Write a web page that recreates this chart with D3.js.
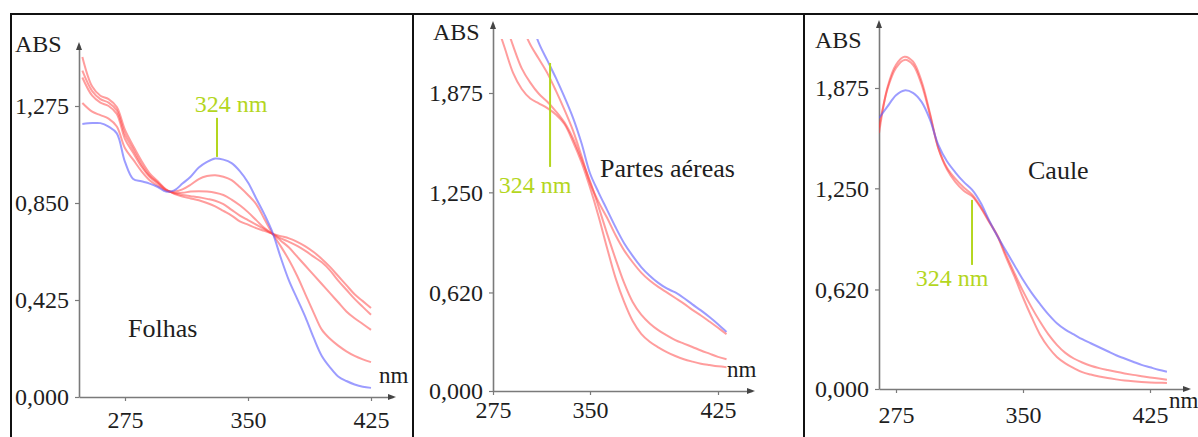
<!DOCTYPE html>
<html lang="pt">
<head>
<meta charset="UTF-8">
<title>Espectros UV</title>
<script src="https://cdn.jsdelivr.net/npm/d3@7"></script>
<style>
  body { margin: 0; background: #fff; }
  svg { display: block; }
</style>
</head>
<body>
<script>
// ---- data ----
// Folhas
var folhasNm = [249, 255, 260, 265, 270, 275, 280, 285, 290, 295, 300, 305, 310, 315, 320, 325, 330, 335,
                340, 345, 350, 355, 360, 365, 370, 375, 380, 385, 390, 395, 400, 405, 410, 415, 420, 425];
var folhasBlue = [1.196, 1.20, 1.20, 1.185, 1.155, 1.03, 0.955, 0.945, 0.935, 0.92, 0.90, 0.905, 0.935, 0.965, 1.005, 1.03, 1.045, 1.04,
                  1.025, 0.99, 0.94, 0.87, 0.80, 0.72, 0.61, 0.51, 0.43, 0.35, 0.26, 0.18, 0.13, 0.09, 0.07, 0.055, 0.045, 0.04];
var folhasRed1 = [1.288, 1.25, 1.235, 1.22, 1.185, 1.09, 1.04, 0.99, 0.95, 0.925, 0.905, 0.90, 0.91, 0.93, 0.955, 0.968, 0.972, 0.965,
                  0.95, 0.92, 0.885, 0.845, 0.78, 0.715, 0.66, 0.60, 0.53, 0.45, 0.37, 0.295, 0.255, 0.225, 0.20, 0.18, 0.165, 0.153];
var folhasRed2 = [1.40, 1.32, 1.29, 1.275, 1.24, 1.13, 1.07, 1.01, 0.965, 0.935, 0.905, 0.895, 0.895, 0.90, 0.902, 0.90, 0.895, 0.885,
                  0.865, 0.84, 0.81, 0.775, 0.74, 0.715, 0.685, 0.655, 0.615, 0.575, 0.535, 0.495, 0.455, 0.415, 0.375, 0.345, 0.32, 0.294];
var folhasRed3 = [1.43, 1.34, 1.305, 1.29, 1.255, 1.15, 1.085, 1.02, 0.97, 0.94, 0.908, 0.893, 0.885, 0.88, 0.875, 0.868, 0.86, 0.845,
                  0.82, 0.795, 0.775, 0.755, 0.735, 0.715, 0.695, 0.68, 0.662, 0.64, 0.615, 0.59, 0.555, 0.51, 0.47, 0.43, 0.395, 0.36];
var folhasRed4 = [1.49, 1.36, 1.32, 1.305, 1.27, 1.17, 1.10, 1.035, 0.98, 0.945, 0.91, 0.89, 0.878, 0.87, 0.862, 0.85, 0.835, 0.815,
                  0.795, 0.77, 0.755, 0.74, 0.728, 0.715, 0.705, 0.695, 0.68, 0.66, 0.635, 0.605, 0.57, 0.53, 0.49, 0.45, 0.42, 0.39];

// Partes aéreas (null = curve not yet started)
var partesNm = [295, 300, 305, 310, 315, 320, 325, 330, 335, 340, 345, 350, 355, 360, 365, 370, 375, 380,
                385, 390, 395, 400, 405, 410, 415, 420, 425, 430];
var partesBlue = [null, null, null, null, 2.35, 2.19, 2.08, 1.97, 1.85, 1.72, 1.56, 1.37, 1.25, 1.14, 1.03, 0.93, 0.85, 0.78,
                  0.725, 0.68, 0.645, 0.62, 0.585, 0.545, 0.507, 0.465, 0.42, 0.372];
var partesRed1 = [2.32, 2.16, 2.0, 1.9, 1.84, 1.81, 1.78, 1.74, 1.68, 1.57, 1.44, 1.28, 1.10, 0.90, 0.71, 0.56, 0.44, 0.36,
                  0.31, 0.275, 0.245, 0.22, 0.20, 0.185, 0.172, 0.163, 0.155, 0.15];
var partesRed2 = [2.5, 2.33, 2.17, 2.03, 1.94, 1.87, 1.82, 1.76, 1.69, 1.59, 1.46, 1.32, 1.16, 0.99, 0.83, 0.68, 0.56, 0.48,
                  0.425, 0.383, 0.35, 0.32, 0.298, 0.277, 0.255, 0.235, 0.215, 0.20];
var partesRed3 = [null, null, null, 2.3, 2.18, 2.09, 2.0, 1.89, 1.77, 1.64, 1.48, 1.31, 1.19, 1.09, 0.98, 0.885, 0.81, 0.745,
                  0.695, 0.655, 0.62, 0.585, 0.55, 0.51, 0.475, 0.437, 0.398, 0.358];

// Caule
var cauleNm = [265, 270, 275, 280, 285, 290, 295, 300, 305, 310, 315, 320, 325, 330, 335, 340, 345, 350,
               355, 360, 365, 370, 375, 380, 385, 390, 395, 400, 405, 410, 415, 420, 425, 430, 435];
var cauleBlue = [1.688, 1.76, 1.83, 1.86, 1.845, 1.79, 1.68, 1.52, 1.42, 1.35, 1.29, 1.24, 1.16, 1.05, 0.95, 0.86, 0.77, 0.68,
                 0.60, 0.53, 0.465, 0.41, 0.37, 0.34, 0.31, 0.285, 0.26, 0.235, 0.21, 0.19, 0.17, 0.15, 0.135, 0.12, 0.108];
var cauleRed1 = [1.595, 1.88, 2.02, 2.07, 2.04, 1.92, 1.72, 1.50, 1.37, 1.29, 1.235, 1.20, 1.13, 1.04, 0.95, 0.82, 0.70, 0.57,
                 0.45, 0.34, 0.26, 0.20, 0.16, 0.13, 0.105, 0.09, 0.078, 0.068, 0.06, 0.053, 0.048, 0.044, 0.041, 0.039, 0.037];
var cauleRed2 = [1.63, 1.87, 2.0, 2.05, 2.02, 1.90, 1.71, 1.50, 1.38, 1.31, 1.255, 1.21, 1.135, 1.045, 0.955, 0.835, 0.72, 0.61,
                 0.51, 0.42, 0.34, 0.275, 0.225, 0.19, 0.165, 0.145, 0.13, 0.118, 0.107, 0.097, 0.088, 0.08, 0.072, 0.065, 0.058];

// ticks
var xTickValues = [275, 350, 425];
var xTickLabels = ["275", "350", "425"];
var folhasYTicks = [0, 0.425, 0.85, 1.275];
var folhasYLabels = ["0,000", "0,425", "0,850", "1,275"];
var abs2YTicks = [0, 0.62, 1.25, 1.875];
var abs2YLabels = ["0,000", "0,620", "1,250", "1,875"];

// ---- layout ----
var W = 1198, H = 437;
var serif = "'Liberation Serif', 'Times New Roman', serif";
var svg = d3.select("body").append("svg").attr("width", W).attr("height", H);

var panels = [
  { name: "Folhas", nm: folhasNm, reds: [folhasRed1, folhasRed2, folhasRed3, folhasRed4], blue: folhasBlue,
    yTicks: folhasYTicks, yLabels: folhasYLabels, firstTickAtOrigin: false,
    xRef: [275, 425], xRefPx: [125, 371], xAxisPx: [79, 393],
    yRef: [0, 1.275], yRefPx: [397, 106], yTopPx: 45, clipTopPx: 45,
    absPos: [15, 52], nmPos: [379, 383], namePos: [128, 337], xLabelDy: 31,
    marker: { nm: 331.1, lo: 1.052, hi: 1.223, labelDx: 14, labelY: 112 } },
  { name: "Partes aéreas", nm: partesNm, reds: [partesRed1, partesRed2, partesRed3], blue: partesBlue,
    yTicks: abs2YTicks, yLabels: abs2YLabels, firstTickAtOrigin: true,
    xRef: [350, 425], xRefPx: [590, 718], xAxisPx: [493, 752],
    yRef: [0, 1.875], yRefPx: [391, 93], yTopPx: 24, clipTopPx: 39,
    absPos: [433, 40], nmPos: [727, 377], namePos: [600, 177], xLabelDy: 27,
    marker: { nm: 326.6, lo: 1.41, hi: 2.064, labelDx: -15, labelY: 193 } },
  { name: "Caule", nm: cauleNm, reds: [cauleRed1, cauleRed2], blue: cauleBlue,
    yTicks: abs2YTicks, yLabels: abs2YLabels, firstTickAtOrigin: false,
    xRef: [275, 425], xRefPx: [896, 1150], xAxisPx: [879, 1188],
    yRef: [0, 1.875], yRefPx: [389, 88], yTopPx: 23, clipTopPx: 23,
    absPos: [815, 48], nmPos: [1169, 408], namePos: [1028, 179], xLabelDy: 34,
    marker: { nm: 319.9, lo: 0.773, hi: 1.178, labelDx: -20, labelY: 286 } }
];

// panel frame lines
var frame = svg.append("g").attr("stroke", "#111").attr("stroke-width", 2);
frame.append("line").attr("x1", 10).attr("x2", W).attr("y1", 14).attr("y2", 14);
[11, 413, 804].forEach(function(x) {
  frame.append("line").attr("x1", x).attr("x2", x).attr("y1", 14).attr("y2", H);
});

var fontSize = 24;
var textColor = "#1e1e1e";

function label(g, pos, txt, size) {
  return g.append("text")
    .attr("x", pos[0]).attr("y", pos[1])
    .style("font-family", serif).style("font-size", size + "px")
    .attr("fill", textColor).text(txt);
}

panels.forEach(function(p, pi) {
  var ref = d3.scaleLinear().domain(p.xRef).range(p.xRefPx);
  var x = d3.scaleLinear()
      .domain([ref.invert(p.xAxisPx[0]), ref.invert(p.xAxisPx[1])])
      .range(p.xAxisPx);
  var yref = d3.scaleLinear().domain(p.yRef).range(p.yRefPx);
  var y = d3.scaleLinear().domain([0, yref.invert(p.yTopPx)]).range([p.yRefPx[0], p.yTopPx]);

  var g = svg.append("g");
  var x0 = p.xAxisPx[0], y0 = p.yRefPx[0];

  // y axis
  var yAxis = d3.axisLeft(y)
      .tickValues(p.yTicks)
      .tickFormat(function(d, i) { return p.yLabels[i]; })
      .tickSizeInner(4).tickSizeOuter(0).tickPadding(6);
  var ya = g.append("g").attr("transform", "translate(" + x0 + ",0)").call(yAxis);

  // x axis
  var xt = p.firstTickAtOrigin ? [x.domain()[0], 350, 425] : xTickValues;
  var xAxis = d3.axisBottom(x)
      .tickValues(xt)
      .tickFormat(function(d, i) { return xTickLabels[i]; })
      .tickSizeInner(4).tickSizeOuter(0).tickPadding(0);
  var xa = g.append("g").attr("transform", "translate(0," + y0 + ")").call(xAxis);

  [ya, xa].forEach(function(a) {
    a.select(".domain").attr("stroke", "#7a7a7a").attr("stroke-width", 1.6);
    a.selectAll(".tick line").attr("stroke", "#7a7a7a").attr("stroke-width", 1.2);
    a.selectAll(".tick text")
      .style("font-family", serif).style("font-size", fontSize + "px")
      .attr("fill", textColor);
  });
  xa.selectAll(".tick text").attr("dy", null).attr("y", p.xLabelDy);

  // arrowheads
  g.append("path")
    .attr("d", "M" + x0 + "," + (p.yTopPx - 3) + "l-3,8l6,0z")
    .attr("fill", "#444");
  g.append("path")
    .attr("d", "M" + (p.xAxisPx[1] + 3) + "," + y0 + "l-8,-3l0,6z")
    .attr("fill", "#444");

  // curves
  var clipId = "clip" + pi;
  svg.append("clipPath").attr("id", clipId).append("rect")
    .attr("x", x0).attr("y", p.clipTopPx)
    .attr("width", p.xAxisPx[1] - x0).attr("height", y0 - p.clipTopPx);

  var line = d3.line()
      .defined(function(d) { return d[1] !== null; })
      .x(function(d) { return x(d[0]); })
      .y(function(d) { return y(d[1]); })
      .curve(d3.curveCatmullRom.alpha(0.5));

  var curves = g.append("g").attr("clip-path", "url(#" + clipId + ")").attr("fill", "none");
  p.reds.forEach(function(s) {
    curves.append("path")
      .attr("d", line(p.nm.map(function(n, i) { return [n, s[i]]; })))
      .attr("stroke", "#ff3b3b").attr("stroke-opacity", 0.5).attr("stroke-width", 2);
  });
  curves.append("path")
    .attr("d", line(p.nm.map(function(n, i) { return [n, p.blue[i]]; })))
    .attr("stroke", "#5a5aff").attr("stroke-opacity", 0.6).attr("stroke-width", 2);

  // 324 nm marker
  var mx = x(p.marker.nm);
  g.append("line")
    .attr("x1", mx).attr("x2", mx)
    .attr("y1", y(p.marker.lo)).attr("y2", y(p.marker.hi))
    .attr("stroke", "#b4d61e").attr("stroke-width", 2);
  label(g, [mx + p.marker.labelDx, p.marker.labelY], "324 nm", fontSize)
    .attr("text-anchor", "middle").attr("fill", "#b4d61e");

  // labels
  label(g, p.absPos, "ABS", fontSize);
  label(g, p.nmPos, "nm", 23);
  label(g, p.namePos, p.name, 26);
});
</script>
</body>
</html>
